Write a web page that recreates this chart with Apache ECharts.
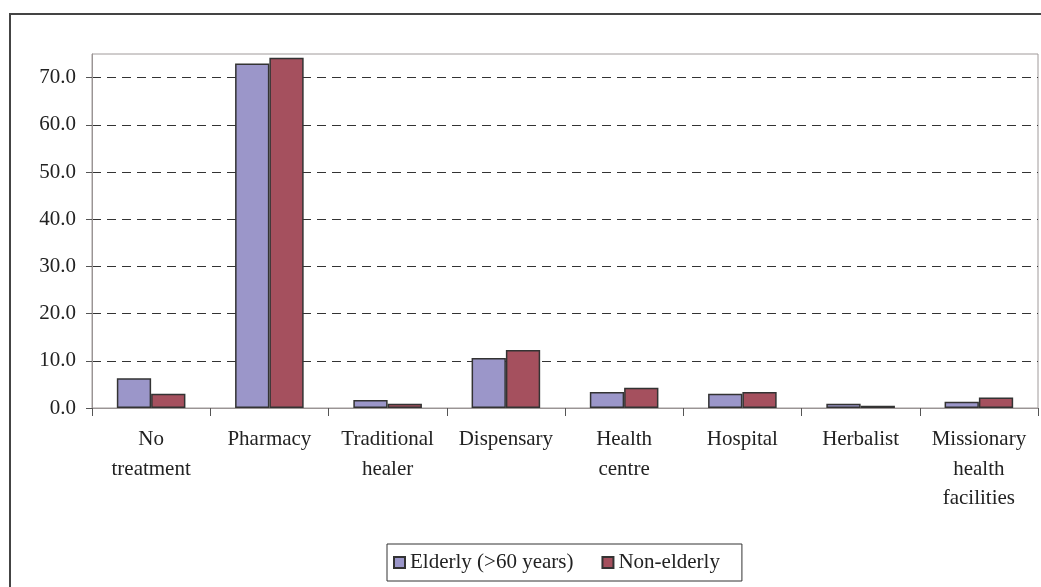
<!DOCTYPE html>
<html><head><meta charset="utf-8">
<script src="https://cdn.jsdelivr.net/npm/echarts@6/dist/echarts.min.js"></script>
<style>html,body{margin:0;padding:0;background:#fff}#c{width:1041px;height:587px}</style>
</head><body><div id="c"></div>
<script>
const categories = ['No\ntreatment','Pharmacy','Traditional\nhealer','Dispensary','Health\ncentre','Hospital','Herbalist','Missionary\nhealth\nfacilities'];
const elderly = [6.3, 73.0, 1.7, 10.6, 3.4, 3.0, 0.9, 1.3];
const nonElderly = [3.0, 74.2, 0.9, 12.3, 4.3, 3.4, 0.5, 2.2];
const seriesNames = ['Elderly (>60 years)', 'Non-elderly'];

const FONT = '"Liberation Serif", "Times New Roman", serif';
const chart = echarts.init(document.getElementById('c'), null, {renderer: 'canvas'});
chart.setOption({
  animation: false,
  backgroundColor: '#fff',
  textStyle: {fontFamily: FONT},
  graphic: [{
    type: 'rect', z: 100, silent: true,
    shape: {x: 10, y: 14, width: 1200, height: 800},
    style: {fill: 'none', stroke: '#444', lineWidth: 2}
  }],
  grid: {left: 92, top: 54, right: 3, bottom: 179, show: true, borderColor: '#a09a9a', borderWidth: 1, backgroundColor: 'transparent'},
  legend: {
    left: 387, top: 544,
    padding: [8, 22, 8, 6],
    borderColor: '#333', borderWidth: 1,
    itemWidth: 11, itemHeight: 11, itemGap: 28,
    icon: 'rect',
    textStyle: {fontFamily: FONT, fontSize: 21, color: '#222'},
    data: seriesNames
  },
  xAxis: {
    type: 'category', data: categories,
    axisLine: {lineStyle: {color: '#9a9494', width: 1}},
    axisTick: {show: true, length: 8, lineStyle: {color: '#555'}},
    axisLabel: {fontFamily: FONT, fontSize: 21, color: '#222', margin: 17, lineHeight: 29.5, interval: 0}
  },
  yAxis: {
    type: 'value', min: 0, max: 75, interval: 10,
    axisLine: {show: true, lineStyle: {color: '#9a9494'}},
    axisTick: {show: true, length: 6, lineStyle: {color: '#555'}},
    axisLabel: {fontFamily: FONT, fontSize: 21, color: '#222', margin: 16, showMaxLabel: false,
      formatter: v => v.toFixed(1)},
    splitLine: {show: true, lineStyle: {type: [9, 6], width: 1,
      color: ['rgba(0,0,0,0)', '#333', '#333', '#333', '#333', '#333', '#333', '#333', 'rgba(0,0,0,0)']}}
  },
  series: [
    {name: seriesNames[0], type: 'bar', data: elderly, barGap: '0%', barCategoryGap: '42%',
     itemStyle: {color: '#9b96c9', borderColor: '#333', borderWidth: 1.5}},
    {name: seriesNames[1], type: 'bar', data: nonElderly, barGap: '0%', barCategoryGap: '42%',
     itemStyle: {color: '#a5505e', borderColor: '#333', borderWidth: 1.5}}
  ]
});
</script></body></html>
